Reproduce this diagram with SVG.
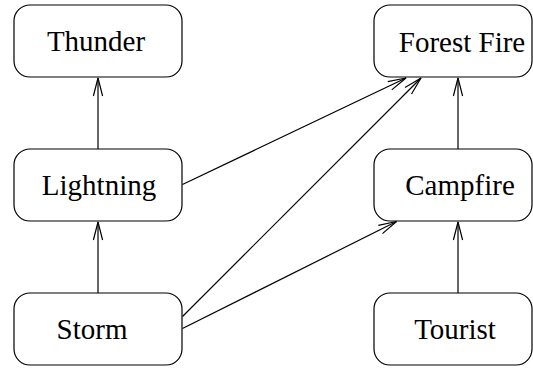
<svg xmlns="http://www.w3.org/2000/svg" width="533" height="368" viewBox="0 0 533 368">
  <style>
    .box { fill: #fff; stroke: #000; stroke-width: 1.2; }
    .label { font-family: 'Liberation Serif', 'Times New Roman', serif; font-size: 29px; fill: #000; text-anchor: middle; }
    .edge { fill: none; stroke: #000; stroke-width: 1.2; marker-end: url(#open); }
  </style>
  <defs>
    <!-- open V arrowhead, long and narrow -->
    <marker id="open" markerUnits="userSpaceOnUse" markerWidth="24" markerHeight="14" viewBox="-20 -7 24 14" refX="0" refY="0" orient="auto">
      <path d="M -18 -4.6 L 0 0 L -18 4.6" fill="none" stroke="#000" stroke-width="1.2"/>
    </marker>
  </defs>

  <g id="connectors">
    <line class="edge" x1="98" y1="149" x2="98" y2="78"/>
    <line class="edge" x1="98" y1="293" x2="98" y2="222"/>
    <line class="edge" x1="458" y1="149" x2="458" y2="78"/>
    <line class="edge" x1="458" y1="293" x2="458" y2="222"/>
    <line class="edge" x1="182.5" y1="184.5" x2="406" y2="78"/>
    <line class="edge" x1="182.5" y1="316.5" x2="421" y2="78"/>
    <line class="edge" x1="182.5" y1="328.5" x2="396.5" y2="221.5"/>
  </g>

  <g id="thunder">
    <rect class="box" x="14" y="5" width="168" height="72" rx="16"/>
    <text class="label" x="96" y="51">Thunder</text>
  </g>
  <g id="lightning">
    <rect class="box" x="14" y="149" width="168" height="72" rx="16"/>
    <text class="label" x="99" y="195">Lightning</text>
  </g>
  <g id="storm">
    <rect class="box" x="14" y="293" width="168" height="72" rx="16"/>
    <text class="label" x="92" y="338.5">Storm</text>
  </g>
  <g id="forest-fire">
    <rect class="box" x="374" y="5" width="158" height="72" rx="16"/>
    <text class="label" x="462" y="52">Forest Fire</text>
  </g>
  <g id="campfire">
    <rect class="box" x="374" y="149" width="158" height="72" rx="16"/>
    <text class="label" x="460" y="195">Campfire</text>
  </g>
  <g id="tourist">
    <rect class="box" x="374" y="293" width="158" height="72" rx="16"/>
    <text class="label" x="455" y="338.5">Tourist</text>
  </g>
</svg>
